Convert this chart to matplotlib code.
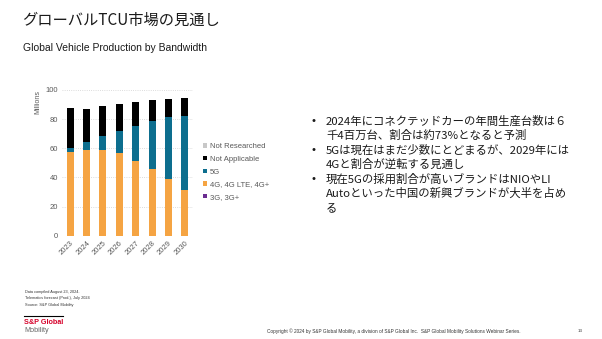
import matplotlib
matplotlib.use("Agg")
import matplotlib.pyplot as plt
import numpy as np

plt.rcParams['font.family'] = ['Liberation Sans', 'Noto Sans CJK JP', 'DejaVu Sans']

# データ (百万台)
years = ['2023', '2024', '2025', '2026', '2027', '2028', '2029', '2030']
g3 = [0.1, 0.1, 0.1, 0.0, 0.0, 0.0, 0.0, 0.0]
g4 = [57.6, 58.7, 58.7, 56.8, 51.3, 45.8, 39.1, 31.1]
g5 = [2.7, 5.3, 9.8, 15.3, 24.2, 32.9, 42.1, 51.3]
na = [27.5, 22.6, 20.6, 18.3, 16.3, 14.2, 12.6, 12.1]
nr = [0.0, 0.0, 0.0, 0.0, 0.0, 0.0, 0.0, 0.0]
series_names = ['3G, 3G+', '4G, 4G LTE, 4G+', '5G', 'Not Applicable', 'Not Researched']
series_colors = ['#6B2C91', '#F5A443', '#0D6E8E', '#000000', '#C8C8C8']

bullets = [
    ['2024年にコネクテッドカーの年間生産台数は６', '千4百万台、割合は約73%となると予測'],
    ['5Gは現在はまだ少数にとどまるが、2029年には', '4Gと割合が逆転する見通し'],
    ['現在5Gの採用割合が高いブランドはNIOやLI', 'Autoといった中国の新興ブランドが大半を占め', 'る'],
]

W, H = 602, 339
fig = plt.figure(figsize=(W / 100, H / 100), dpi=100)
fig.set_facecolor('white')

def px(x, y):
    return x / W, 1 - y / H

# タイトル
fig.text(*px(22, 20), 'グローバルTCU市場の見通し', fontsize=11, va='center',
         family=['Noto Sans CJK JP'], color='#1a1a1a')
fig.text(*px(23, 48), 'Global Vehicle Production by Bandwidth', fontsize=7.5, va='center',
         color='#1a1a1a')

# 棒グラフ
ax = fig.add_axes([62 / W, 1 - 235.7 / H, 131 / W, 145.7 / H])
x = np.arange(len(years))
bottom = np.zeros(len(years))
bars = []
for vals, name, c in zip([g3, g4, g5, na, nr], series_names, series_colors):
    b = ax.bar(x, vals, width=0.42, bottom=bottom, color=c, label=name, zorder=3)
    bottom += np.array(vals)
    bars.append(b)

ax.set_xlim(-0.5, len(years) - 0.5)
ax.set_ylim(0, 100)
ax.set_yticks(range(0, 101, 20))
ax.set_xticks(x)
ax.set_xticklabels(years, rotation=45, ha='right', rotation_mode='anchor')
ax.tick_params(length=0, labelsize=5.5, labelcolor='#595959', pad=3)
ax.grid(axis='y', color='#d0d0d0', linestyle=':', linewidth=0.6, zorder=0)
for s in ax.spines.values():
    s.set_visible(False)
ax.set_ylabel('Millions', fontsize=5, color='#595959', loc='top', labelpad=3)

fig.legend(bars[::-1], series_names[::-1], loc='center left',
           bbox_to_anchor=px(200, 172), frameon=False, fontsize=5.5,
           labelcolor='#595959', handlelength=0.5, handleheight=0.5,
           handletextpad=0.4, labelspacing=0.75, borderaxespad=0)

# 箇条書き
y = 121
for item in bullets:
    fig.text(*px(311, y), '•', fontsize=8, va='center', color='#1a1a1a')
    for line in item:
        fig.text(*px(326, y), line, fontsize=8.2, va='center', color='#1a1a1a',
                 family=['Noto Sans CJK JP'])
        y += 14.5

# フッター
notes = ['Data compiled August 23, 2024.', 'Telematics forecast (Prod.), July 2024',
         'Source: S&P Global Mobility']
for i, n in enumerate(notes):
    fig.text(*px(25, 292 + i * 6.3), n, fontsize=2.8, va='center', color='#333333')
fig.add_artist(plt.Line2D([24 / W, 63 / W], [1 - 316 / H, 1 - 316 / H],
                          color='black', linewidth=0.8))
fig.text(*px(24, 323), 'S&P Global', fontsize=5.2, va='center', color='#D6002A',
         fontweight='bold')
fig.text(*px(24, 331), 'Mobility', fontsize=5.2, va='center', color='#666666')
fig.text(*px(267, 331), 'Copyright © 2024 by S&P Global Mobility, a division of S&P Global Inc.  '
         'S&P Global Mobility Solutions Webinar Series.', fontsize=3.4, va='center',
         color='#333333')
fig.text(*px(578, 331), '13', fontsize=3.2, va='center', color='#333333')

fig.savefig('out.png', dpi=100)
